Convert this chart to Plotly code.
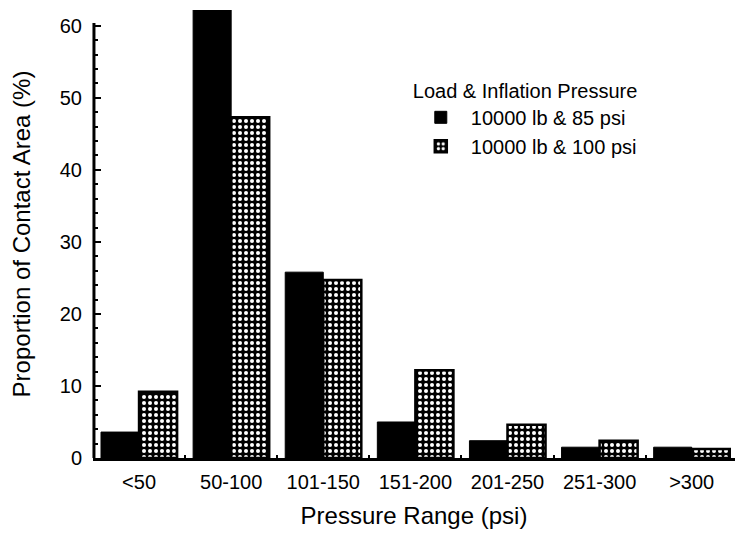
import plotly.graph_objects as go

categories = ["<50", "50-100", "101-150", "151-200", "201-250", "251-300", ">300"]
series_85 = [3.6, 63.0, 25.8, 5.0, 2.4, 1.5, 1.5]
series_100 = [9.2, 47.3, 24.7, 12.2, 4.6, 2.4, 1.25]
series_names = ["10000 lb & 85 psi", "10000 lb & 100 psi"]
y_ticks = [0, 10, 20, 30, 40, 50, 60]

FONT = "Liberation Sans, Arial, Helvetica, sans-serif"

fig = go.Figure()
fig.add_trace(go.Bar(
    x=categories, y=series_85, name=series_names[0],
    marker=dict(color="black", line=dict(color="black", width=1)),
))
fig.add_trace(go.Bar(
    x=categories, y=series_100, name=series_names[1],
    marker=dict(color="black", line=dict(color="black", width=2.5),
                pattern=dict(shape=".", fgcolor="white", bgcolor="black",
                             size=6, solidity=0.35, fillmode="replace")),
))

fig.update_layout(
    width=735, height=535,
    margin=dict(l=93, r=0, t=10, b=77),
    plot_bgcolor="white", paper_bgcolor="white",
    barmode="group", bargap=0.174, bargroupgap=0.0,
    font=dict(family=FONT, size=20, color="black"),
    legend=dict(
        x=0.495, y=0.862, xanchor="left", yanchor="top",
        title=dict(text="Load & Inflation Pressure", font=dict(size=20)),
        font=dict(size=20), bgcolor="rgba(0,0,0,0)",
        tracegroupgap=0, itemwidth=50,
    ),
    showlegend=True,
)

fig.update_xaxes(
    range=[-0.5, 6.47], showline=True, linecolor="black", linewidth=3,
    ticks="inside", tickson="boundaries", ticklen=3, tickwidth=2, tickcolor="black",
    showgrid=False, zeroline=False,
    tickfont=dict(size=20), ticklabelstandoff=4,
    title=dict(text="Pressure Range (psi)", font=dict(size=24), standoff=16),
)

fig.update_yaxes(
    range=[0, 62.2], showline=False, showgrid=False, zeroline=False,
    tickmode="array", tickvals=y_ticks, ticks="inside", ticklen=8, tickwidth=2,
    tickcolor="black", tickfont=dict(size=20), ticklabelstandoff=10,
    minor=dict(tickmode="array", tickvals=[v for v in range(0, 61, 2) if v % 10],
               ticks="inside", ticklen=5, tickwidth=2, tickcolor="black"),
    title=dict(text="Proportion of Contact Area (%)", font=dict(size=24), standoff=22),
)

fig.add_shape(type="line", xref="paper", yref="y", x0=0.0015, x1=0.0015, y0=0, y1=60.4,
              line=dict(color="black", width=3))

fig.write_html("out.html")
